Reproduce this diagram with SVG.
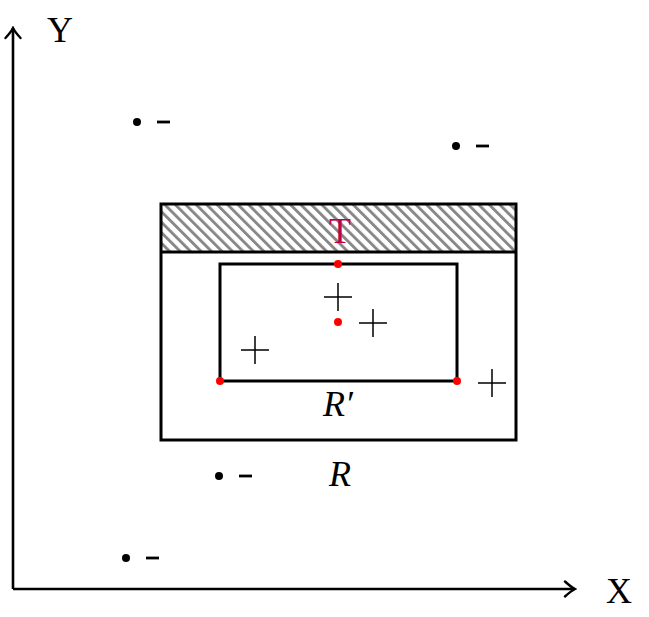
<svg xmlns="http://www.w3.org/2000/svg" width="649" height="617" viewBox="0 0 649 617">
<defs>
<pattern id="hatch" patternUnits="userSpaceOnUse" width="7.4" height="7.4" patternTransform="rotate(-45)">
<rect x="0" y="0" width="2.9" height="7.4" fill="#888888"/>
</pattern>
<marker id="arr" viewBox="0 0 14 18" refX="12" refY="9" markerWidth="14" markerHeight="18" markerUnits="userSpaceOnUse" orient="auto">
<path d="M2,1.5 Q8,7 12,9 Q8,11 2,16.5" fill="none" stroke="#000" stroke-width="2.4" stroke-linecap="round"/>
</marker>
</defs>
<style>
.ax{stroke:#000;stroke-width:2.6;fill:none}
.box{stroke:#000;stroke-width:3;fill:none}
.pl{stroke:#000;stroke-width:1.5}
.dash{stroke:#000;stroke-width:2.8}
.lbl{font-family:"Liberation Serif","DejaVu Serif",serif;font-size:36px;fill:#000;text-anchor:middle}
.it{font-style:italic}
.red{fill:#ff0000}
</style>
<g id="axes">
<line class="ax" x1="13" y1="589" x2="13" y2="28" marker-end="url(#arr)"/>
<line class="ax" x1="13" y1="589" x2="575" y2="589" marker-end="url(#arr)"/>
<text class="lbl" x="60" y="42">Y</text>
<text class="lbl" x="619" y="603">X</text>
</g>
<g id="R">
<rect x="161" y="204" width="355" height="48" fill="url(#hatch)"/>
<rect class="box" x="161" y="204" width="355" height="236"/>
<line class="box" x1="161" y1="252" x2="516" y2="252"/>
<text class="lbl it" x="340" y="486">R</text>
</g>
<g id="T">
<text class="lbl" x="340" y="243" style="fill:#c0004a">T</text>
</g>
<g id="Rprime">
<rect class="box" x="220" y="264" width="237" height="117"/>
<text class="lbl it" x="338" y="416">R′</text>
</g>
<g id="redpoints">
<circle class="red" cx="338" cy="264" r="4"/>
<circle class="red" cx="338" cy="322" r="4"/>
<circle class="red" cx="220" cy="381" r="4"/>
<circle class="red" cx="457" cy="381" r="4"/>
</g>
<g id="plus">
<path class="pl" d="M324,297h28M338,283v28"/>
<path class="pl" d="M359,323h28M373,309v28"/>
<path class="pl" d="M241,350h28M255,336v28"/>
<path class="pl" d="M478,383h28M492,369v28"/>
</g>
<g id="minus">
<circle cx="137" cy="122" r="4"/><path class="dash" d="M157,122h13"/>
<circle cx="456" cy="146" r="4"/><path class="dash" d="M476,146h13"/>
<circle cx="219" cy="476" r="4"/><path class="dash" d="M239,476h13"/>
<circle cx="126" cy="558" r="4"/><path class="dash" d="M146,558h13"/>
</g>
</svg>
